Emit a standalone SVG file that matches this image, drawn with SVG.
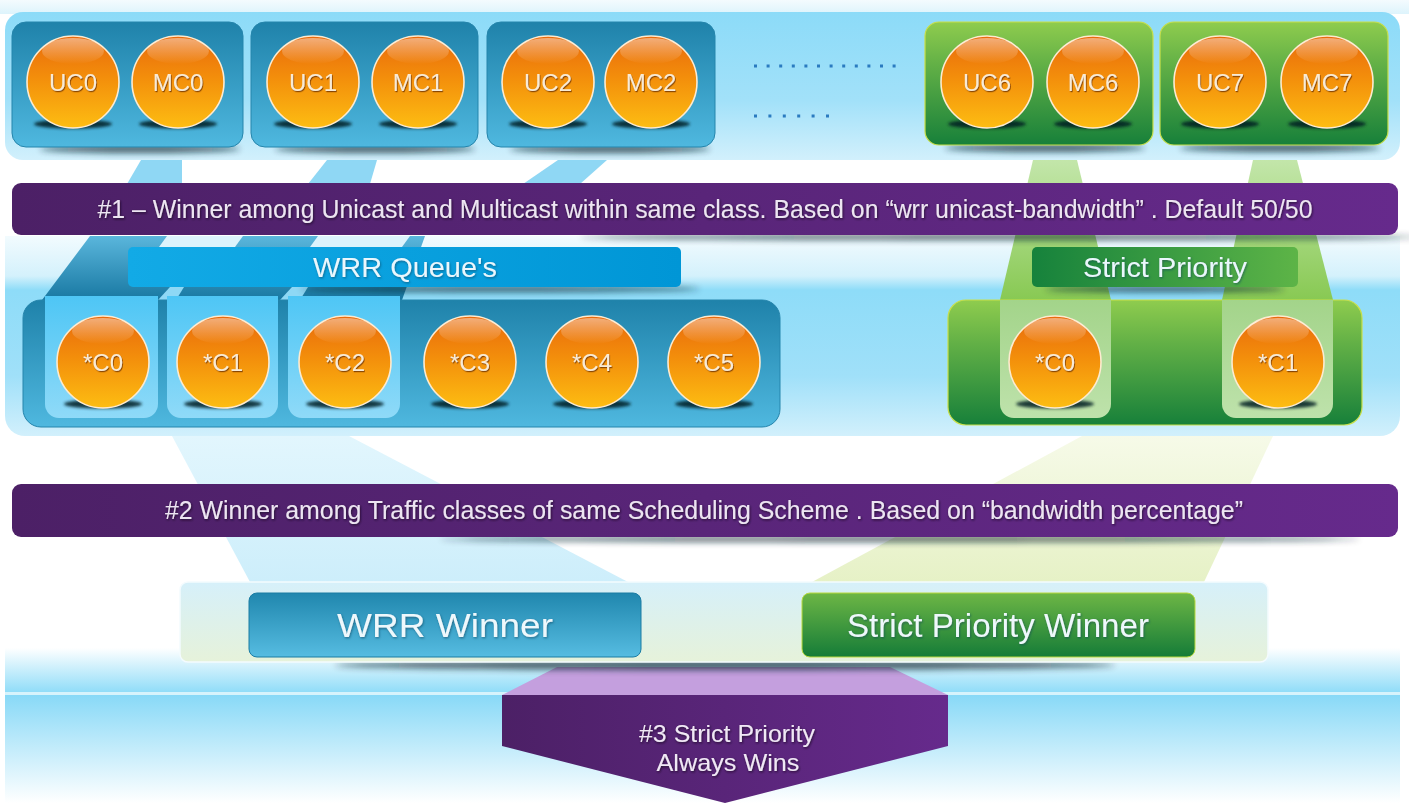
<svg xmlns="http://www.w3.org/2000/svg" width="1409" height="803" viewBox="0 0 1409 803">
<defs>
  <linearGradient id="sphere" x1="0" y1="0" x2="0" y2="1">
    <stop offset="0" stop-color="#E96A0C"/>
    <stop offset="0.45" stop-color="#F38E0B"/>
    <stop offset="1" stop-color="#FDBD12"/>
  </linearGradient>
  <linearGradient id="gloss" x1="0" y1="0" x2="0" y2="1">
    <stop offset="0" stop-color="#FFFFFF" stop-opacity="0.45"/>
    <stop offset="1" stop-color="#FFFFFF" stop-opacity="0"/>
  </linearGradient>
  <linearGradient id="blueBox" x1="0" y1="0" x2="0" y2="1">
    <stop offset="0" stop-color="#1F82AA"/>
    <stop offset="1" stop-color="#4FB8DF"/>
  </linearGradient>
  <linearGradient id="greenBox" x1="0" y1="0" x2="0" y2="1">
    <stop offset="0" stop-color="#8FCC4E"/>
    <stop offset="0.35" stop-color="#62B046"/>
    <stop offset="1" stop-color="#17803A"/>
  </linearGradient>
  <linearGradient id="purpleH" x1="0" y1="0" x2="1" y2="0">
    <stop offset="0" stop-color="#4C2066"/>
    <stop offset="1" stop-color="#662A8C"/>
  </linearGradient>
  <linearGradient id="topPanel" x1="0" y1="0" x2="0" y2="1">
    <stop offset="0" stop-color="#8CDBF8"/>
    <stop offset="0.6" stop-color="#A2E1F9"/>
    <stop offset="1" stop-color="#D2F0FC"/>
  </linearGradient>
  <linearGradient id="topBand" x1="0" y1="0" x2="0" y2="1">
    <stop offset="0" stop-color="#F4FBFE"/>
    <stop offset="1" stop-color="#DDF4FC"/>
  </linearGradient>
  <linearGradient id="midPanel" x1="0" y1="0" x2="0" y2="1">
    <stop offset="0" stop-color="#F2FBFE"/>
    <stop offset="0.2" stop-color="#D4F1FC"/>
    <stop offset="0.27" stop-color="#8EDCF8"/>
    <stop offset="0.7" stop-color="#A0E0F9"/>
    <stop offset="1" stop-color="#D2F0FC"/>
  </linearGradient>
  <linearGradient id="darkFace" x1="0" y1="0" x2="0" y2="1">
    <stop offset="0" stop-color="#5AB6DC"/>
    <stop offset="1" stop-color="#1878A2"/>
  </linearGradient>
  <linearGradient id="wrrBar" x1="0" y1="0" x2="1" y2="0">
    <stop offset="0" stop-color="#12AAE6"/>
    <stop offset="1" stop-color="#0096D6"/>
  </linearGradient>
  <linearGradient id="spBar" x1="0" y1="0" x2="1" y2="0">
    <stop offset="0" stop-color="#16823C"/>
    <stop offset="1" stop-color="#5DB447"/>
  </linearGradient>
  <linearGradient id="cellBlue" x1="0" y1="0" x2="0" y2="1">
    <stop offset="0" stop-color="#4EC6F5"/>
    <stop offset="1" stop-color="#8FDAF8"/>
  </linearGradient>
  <linearGradient id="cellGreen" x1="0" y1="0" x2="0" y2="1">
    <stop offset="0" stop-color="#A3D48A"/>
    <stop offset="1" stop-color="#BEE2AB"/>
  </linearGradient>
  <linearGradient id="stripGreen" x1="0" y1="0" x2="0" y2="1">
    <stop offset="0" stop-color="#C3E6AA"/>
    <stop offset="1" stop-color="#88C953"/>
  </linearGradient>
  <linearGradient id="winBlue" x1="0" y1="0" x2="0" y2="1">
    <stop offset="0" stop-color="#2087AE"/>
    <stop offset="1" stop-color="#56BCE1"/>
  </linearGradient>
  <linearGradient id="winGreen" x1="0" y1="0" x2="0" y2="1">
    <stop offset="0" stop-color="#6DB645"/>
    <stop offset="1" stop-color="#157C38"/>
  </linearGradient>
  <linearGradient id="floorTop" x1="0" y1="0" x2="0" y2="1">
    <stop offset="0" stop-color="#FFFFFF"/>
    <stop offset="1" stop-color="#8EDCF8"/>
  </linearGradient>
  <linearGradient id="floorBot" x1="0" y1="0" x2="0" y2="1">
    <stop offset="0" stop-color="#88D9F7"/>
    <stop offset="1" stop-color="#FFFFFF"/>
  </linearGradient>
  <linearGradient id="botPanel" x1="0" y1="0" x2="0" y2="1">
    <stop offset="0" stop-color="#D6F0FA"/>
    <stop offset="1" stop-color="#E6F2DA"/>
  </linearGradient>
  <linearGradient id="lowBlue" x1="0" y1="0" x2="0" y2="1">
    <stop offset="0" stop-color="#E2F6FD"/>
    <stop offset="1" stop-color="#CDEEFB"/>
  </linearGradient>
  <linearGradient id="lowGreen" x1="0" y1="0" x2="0" y2="1">
    <stop offset="0" stop-color="#F6FAE8"/>
    <stop offset="1" stop-color="#E6F1C6"/>
  </linearGradient>
  <filter id="blur" x="-20%" y="-300%" width="140%" height="700%">
    <feGaussianBlur stdDeviation="3"/>
  </filter>
  <filter id="blurS" x="-20%" y="-300%" width="140%" height="700%">
    <feGaussianBlur stdDeviation="1.8"/>
  </filter>
  <filter id="ts" x="-10%" y="-20%" width="130%" height="150%">
    <feDropShadow dx="0.8" dy="1.2" stdDeviation="0.7" flood-color="#6A3000" flood-opacity="0.8"/>
  </filter>
  <filter id="tsd" x="-5%" y="-20%" width="110%" height="150%">
    <feDropShadow dx="0.8" dy="1.2" stdDeviation="0.8" flood-color="#140822" flood-opacity="0.8"/>
  </filter>
  <filter id="tsb" x="-5%" y="-20%" width="110%" height="150%">
    <feDropShadow dx="0.8" dy="1.2" stdDeviation="0.8" flood-color="#0A3F5A" flood-opacity="0.6"/>
  </filter>
  <g id="ball">
    <ellipse cx="0" cy="42" rx="39" ry="4.5" fill="#061A24" opacity="0.85" filter="url(#blurS)"/>
    <circle r="46" fill="url(#sphere)" stroke="#FDEBD0" stroke-width="1.6"/>
    <ellipse cx="0" cy="-31" rx="31" ry="13" fill="url(#gloss)"/>
  </g>
</defs>
<style>
  .lbl{font-family:"Liberation Sans",Arial,sans-serif;font-size:24px;fill:#F9EBD6;text-anchor:middle;filter:url(#ts)}
  .bar{font-family:"Liberation Sans",Arial,sans-serif;font-size:25px;fill:#EDE5F2;text-anchor:middle;filter:url(#tsd)}
  .hdr{font-family:"Liberation Sans",Arial,sans-serif;font-size:28px;fill:#EAF7FD;text-anchor:middle;filter:url(#tsb)}
  .win{font-family:"Liberation Sans",Arial,sans-serif;font-size:34px;fill:#EEF8FC;text-anchor:middle;filter:url(#tsb)}
  .arr{font-family:"Liberation Sans",Arial,sans-serif;font-size:24px;fill:#F0E8F5;text-anchor:middle;filter:url(#tsd)}
  .gsh{fill:#0A2530;opacity:0.7;filter:url(#blur)}
  .bgrp{fill:url(#blueBox);stroke:#2585AC;stroke-width:1}
  .ggrp{fill:url(#greenBox);stroke:#C8DF4A;stroke-width:1.2}
</style>

<rect width="1409" height="803" fill="#FFFFFF"/>
<rect x="0" y="0" width="1409" height="14" fill="url(#topBand)"/>

<!-- panels -->
<rect id="top-panel" x="5" y="12" width="1395" height="148" rx="18" fill="url(#topPanel)"/>
<path id="middle-panel" d="M5,236 H1400 V416 a20,20 0 0 1 -20,20 H25 a20,20 0 0 1 -20,-20 Z" fill="url(#midPanel)"/>
<g id="floor">
  <rect x="5" y="648" width="1395" height="45" fill="url(#floorTop)"/>
  <rect x="5" y="692" width="1395" height="3" fill="#D6F3FC"/>
  <rect x="5" y="695" width="1395" height="108" fill="url(#floorBot)"/>
</g>

<!-- connectors -->
<g id="connectors">
  <polygon points="172,436 349,436 628,582 250,582" fill="url(#lowBlue)"/>
  <polygon points="1082,436 1273,436 1204,582 812,582" fill="url(#lowGreen)"/>
  <polygon points="141,160 182,160 182,184 127,184" fill="#8FD7F4"/>
  <polygon points="327,160 377,160 370,184 308,184" fill="#8FD7F4"/>
  <polygon points="558,160 607,160 580,184 523,184" fill="#8FD7F4"/>
  <polygon points="90,236 425,236 402,300 42,300" fill="url(#darkFace)"/>
  <polygon points="167,236 243,236 235,247 159,247" fill="#DCF3FC"/>
  <polygon points="318,236 410,236 402,247 310,247" fill="#DCF3FC"/>
  <polygon points="170,287 184,287 176,300 158,300" fill="#8ED8F5"/>
  <polygon points="292,287 308,287 300,300 280,300" fill="#8ED8F5"/>
  <polygon points="1033,160 1077,160 1111,300 1000,300" fill="url(#stripGreen)"/>
  <polygon points="1253,160 1297,160 1333,300 1222,300" fill="url(#stripGreen)"/>
</g>

<!-- top row groups -->
<g id="group-0">
  <ellipse cx="140" cy="149" rx="100" ry="4" class="gsh"/>
  <rect x="12" y="22" width="231" height="125" rx="14" class="bgrp"/>
  <g id="uc0"><use href="#ball" x="73" y="82"/><text class="lbl" x="73" y="91">UC0</text></g>
  <g id="mc0"><use href="#ball" x="178" y="82"/><text class="lbl" x="178" y="91">MC0</text></g>
</g>
<g id="group-1">
  <ellipse cx="375" cy="149" rx="100" ry="4" class="gsh"/>
  <rect x="251" y="22" width="227" height="125" rx="14" class="bgrp"/>
  <g id="uc1"><use href="#ball" x="313" y="82"/><text class="lbl" x="313" y="91">UC1</text></g>
  <g id="mc1"><use href="#ball" x="418" y="82"/><text class="lbl" x="418" y="91">MC1</text></g>
</g>
<g id="group-2">
  <ellipse cx="610" cy="149" rx="100" ry="4" class="gsh"/>
  <rect x="487" y="22" width="228" height="125" rx="14" class="bgrp"/>
  <g id="uc2"><use href="#ball" x="548" y="82"/><text class="lbl" x="548" y="91">UC2</text></g>
  <g id="mc2"><use href="#ball" x="651" y="82"/><text class="lbl" x="651" y="91">MC2</text></g>
</g>
<g id="dots">
  <line x1="754" y1="66" x2="897" y2="66" stroke="#2A7BC0" stroke-width="3" stroke-dasharray="3 9.6"/>
  <line x1="754" y1="116" x2="830" y2="116" stroke="#2A7BC0" stroke-width="3" stroke-dasharray="3 11.4"/>
</g>
<g id="group-6">
  <ellipse cx="1045" cy="148" rx="100" ry="4" class="gsh"/>
  <rect x="925" y="22" width="228" height="123" rx="14" class="ggrp"/>
  <g id="uc6"><use href="#ball" x="987" y="82"/><text class="lbl" x="987" y="91">UC6</text></g>
  <g id="mc6"><use href="#ball" x="1093" y="82"/><text class="lbl" x="1093" y="91">MC6</text></g>
</g>
<g id="group-7">
  <ellipse cx="1280" cy="148" rx="100" ry="4" class="gsh"/>
  <rect x="1160" y="22" width="228" height="123" rx="14" class="ggrp"/>
  <g id="uc7"><use href="#ball" x="1220" y="82"/><text class="lbl" x="1220" y="91">UC7</text></g>
  <g id="mc7"><use href="#ball" x="1327" y="82"/><text class="lbl" x="1327" y="91">MC7</text></g>
</g>

<!-- step 1 bar -->
<g id="step1">
  <ellipse cx="1000" cy="237" rx="420" ry="3" class="gsh"/>
  <rect x="12" y="183" width="1386" height="52" rx="9" fill="url(#purpleH)"/>
  <text class="bar" x="705" y="218" textLength="1215" lengthAdjust="spacingAndGlyphs">#1 – Winner among Unicast and Multicast within same class. Based on “wrr unicast-bandwidth” . Default 50/50</text>
</g>

<!-- headers -->
<g id="wrr-queues">
  <ellipse cx="500" cy="289" rx="200" ry="3" class="gsh"/>
  <rect x="128" y="247" width="553" height="40" rx="5" fill="url(#wrrBar)"/>
  <text class="hdr" x="405" y="277" textLength="184" lengthAdjust="spacingAndGlyphs">WRR Queue's</text>
</g>
<g id="strict-priority">
  <ellipse cx="1165" cy="289" rx="120" ry="3" class="gsh"/>
  <rect x="1032" y="247" width="266" height="40" rx="5" fill="url(#spBar)"/>
  <text class="hdr" x="1165" y="277" textLength="164" lengthAdjust="spacingAndGlyphs">Strict Priority</text>
</g>

<!-- middle row -->
<g id="wrr-classes">
  <rect x="23" y="300" width="757" height="127" rx="18" class="bgrp"/>
  <path d="M45,296 H158 V404 a14,14 0 0 1 -14,14 H59 a14,14 0 0 1 -14,-14 Z" fill="url(#cellBlue)"/>
  <path d="M167,296 H278 V404 a14,14 0 0 1 -14,14 H181 a14,14 0 0 1 -14,-14 Z" fill="url(#cellBlue)"/>
  <path d="M288,296 H400 V404 a14,14 0 0 1 -14,14 H302 a14,14 0 0 1 -14,-14 Z" fill="url(#cellBlue)"/>
  <g id="wc0"><use href="#ball" x="103" y="362"/><text class="lbl" x="103" y="371">*C0</text></g>
  <g id="wc1"><use href="#ball" x="223" y="362"/><text class="lbl" x="223" y="371">*C1</text></g>
  <g id="wc2"><use href="#ball" x="345" y="362"/><text class="lbl" x="345" y="371">*C2</text></g>
  <g id="wc3"><use href="#ball" x="470" y="362"/><text class="lbl" x="470" y="371">*C3</text></g>
  <g id="wc4"><use href="#ball" x="592" y="362"/><text class="lbl" x="592" y="371">*C4</text></g>
  <g id="wc5"><use href="#ball" x="714" y="362"/><text class="lbl" x="714" y="371">*C5</text></g>
</g>
<g id="sp-classes">
  <rect x="948" y="300" width="414" height="125" rx="18" class="ggrp"/>
  <path d="M1000,300 H1111 V404 a14,14 0 0 1 -14,14 H1014 a14,14 0 0 1 -14,-14 Z" fill="url(#cellGreen)"/>
  <path d="M1222,300 H1333 V404 a14,14 0 0 1 -14,14 H1236 a14,14 0 0 1 -14,-14 Z" fill="url(#cellGreen)"/>
  <g id="sc0"><use href="#ball" x="1055" y="362"/><text class="lbl" x="1055" y="371">*C0</text></g>
  <g id="sc1"><use href="#ball" x="1278" y="362"/><text class="lbl" x="1278" y="371">*C1</text></g>
</g>

<!-- step 2 bar -->
<g id="step2">
  <ellipse cx="900" cy="539" rx="460" ry="3" class="gsh"/>
  <rect x="12" y="484" width="1386" height="53" rx="9" fill="url(#purpleH)"/>
  <text class="bar" x="704" y="519" textLength="1078" lengthAdjust="spacingAndGlyphs">#2 Winner among Traffic classes of same Scheduling Scheme . Based on “bandwidth percentage”</text>
</g>

<!-- step 3 arrow -->
<g id="step3">
  <polygon points="557,667 890,667 948,695 502,695" fill="#C49FDE"/>
  <polygon points="502,695 948,695 948,746 725,803 502,746" fill="url(#purpleH)"/>
  <text class="arr" x="727" y="742" textLength="176" lengthAdjust="spacingAndGlyphs">#3 Strict Priority</text>
  <text class="arr" x="728" y="771" textLength="143" lengthAdjust="spacingAndGlyphs">Always Wins</text>
</g>

<!-- winners -->
<g id="winners">
  <ellipse cx="725" cy="665" rx="390" ry="5" class="gsh"/>
  <rect x="180" y="582" width="1088" height="80" rx="8" fill="url(#botPanel)" stroke="#F4FBFE" stroke-width="1.5"/>
  <g id="wrr-winner">
    <rect x="249" y="593" width="392" height="64" rx="8" fill="url(#winBlue)" stroke="#1B7CA3" stroke-width="1"/>
    <text class="win" x="445" y="637" textLength="216" lengthAdjust="spacingAndGlyphs">WRR Winner</text>
  </g>
  <g id="sp-winner">
    <rect x="802" y="593" width="393" height="64" rx="8" fill="url(#winGreen)" stroke="#B9D93E" stroke-width="1"/>
    <text class="win" x="998" y="637" textLength="302" lengthAdjust="spacingAndGlyphs">Strict Priority Winner</text>
  </g>
</g>
</svg>
